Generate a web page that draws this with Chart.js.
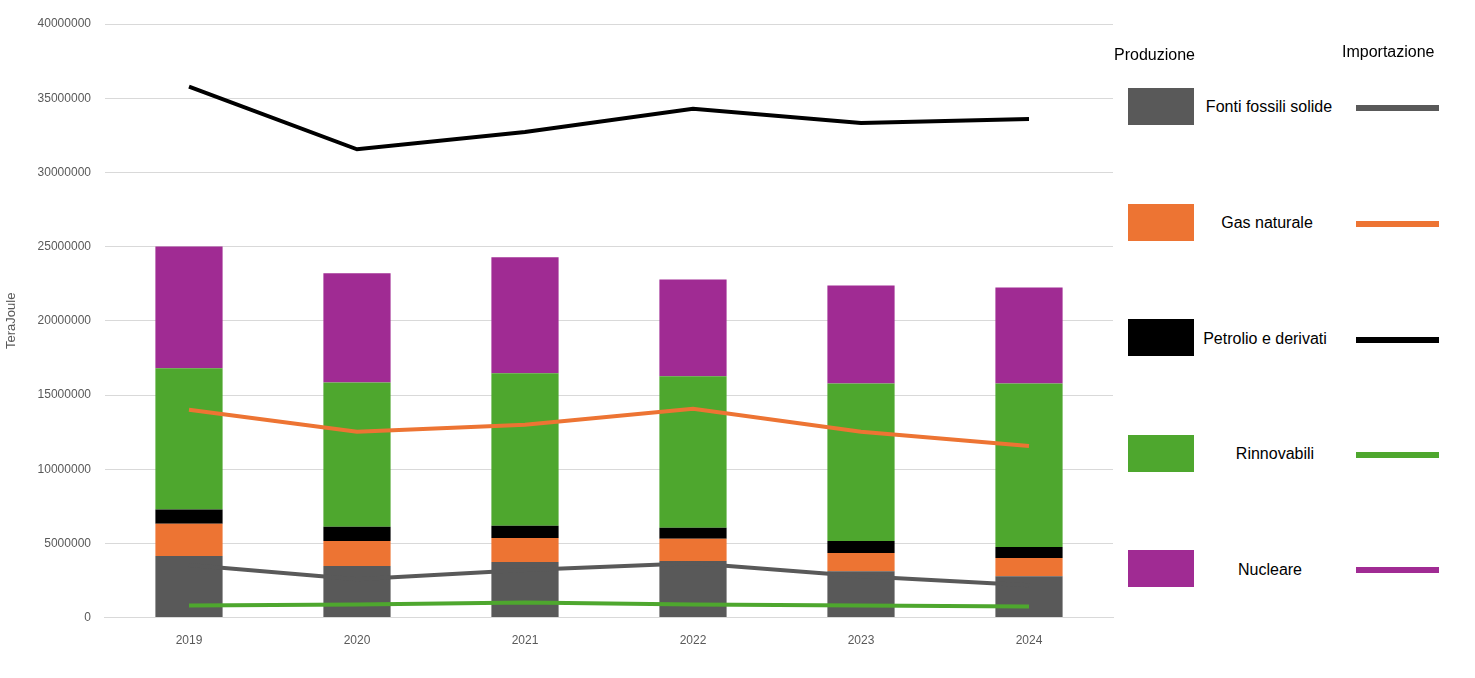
<!DOCTYPE html>
<html>
<head>
<meta charset="utf-8">
<script src="https://cdn.jsdelivr.net/npm/chart.js"></script>
<style>
  body { margin: 0; background: #fff; font-family: "Liberation Sans", Arial, sans-serif; }
  #wrap { position: absolute; left: 0; top: 0; width: 1125px; height: 678px; }
  .hdr { position: absolute; font-size: 16px; color: #000; }
  .box { position: absolute; left: 1128px; width: 66px; height: 37px; }
  .lbl { position: absolute; font-size: 16px; color: #000; width: 150px; text-align: center; }
  .ln { position: absolute; left: 1356px; width: 83px; height: 6px; }
</style>
</head>
<body>
<div id="wrap"><canvas id="c"></canvas></div>
<div class="hdr" style="left:1114px;top:46px">Produzione</div>
<div class="hdr" style="left:1342px;top:43px">Importazione</div>
<div id="legend"></div>
<script>
  var years = ['2019', '2020', '2021', '2022', '2023', '2024'];
  var sources = ['Fonti fossili solide', 'Gas naturale', 'Petrolio e derivati', 'Rinnovabili', 'Nucleare'];
  var colors = ['#595959', '#ED7433', '#000000', '#4EA72E', '#A02B93'];

  // Produzione (bars, stacked)
  var prodSolidi = [4150000, 3470000, 3740000, 3810000, 3130000, 2790000];
  var prodGas = [2180000, 1700000, 1630000, 1500000, 1220000, 1220000];
  var prodPetrolio = [950000, 950000, 820000, 740000, 820000, 750000];
  var prodRinnovabili = [9520000, 9730000, 10270000, 10210000, 10610000, 11020000];
  var prodNucleare = [8200000, 7350000, 7830000, 6530000, 6600000, 6460000];

  // Importazione (lines)
  var impSolidi = [3540000, 2590000, 3200000, 3670000, 2790000, 2180000];
  var impGas = [14010000, 12520000, 12990000, 14080000, 12520000, 11560000];
  var impPetrolio = [35780000, 31560000, 32720000, 34290000, 33330000, 33600000];
  var impRinnovabili = [820000, 880000, 1020000, 880000, 820000, 750000];

  var prod = [prodSolidi, prodGas, prodPetrolio, prodRinnovabili, prodNucleare];
  var imp = [impSolidi, impGas, impPetrolio, impRinnovabili];

  var datasets = [];
  imp.forEach(function (d, i) {
    datasets.push({ type: 'line', label: sources[i] + ' imp', data: d, borderColor: colors[i],
      borderWidth: 4, pointRadius: 0, fill: false, tension: 0, order: 0, stack: 'imp' + i });
  });
  prod.forEach(function (d, i) {
    datasets.push({ type: 'bar', label: sources[i], data: d, backgroundColor: colors[i],
      stack: 'prod', order: 1, barPercentage: 0.4, categoryPercentage: 1 });
  });

  new Chart(document.getElementById('c'), {
    data: { labels: years, datasets: datasets },
    options: {
      responsive: true, maintainAspectRatio: false, animation: false,
      layout: { padding: { top: 24, right: 12, bottom: 22, left: 0 } },
      plugins: { legend: { display: false }, tooltip: { enabled: false } },
      scales: {
        x: { stacked: true, grid: { display: false }, border: { color: '#d9d9d9' },
          ticks: { color: '#595959', font: { size: 12 }, padding: 8 } },
        y: { stacked: false, min: 0, max: 40000000,
          grid: { color: '#d9d9d9', drawTicks: false }, border: { display: false },
          ticks: { stepSize: 5000000, color: '#595959', font: { size: 12 }, padding: 14,
            callback: function (v) { return String(v); } },
          title: { display: true, text: 'TeraJoule', color: '#595959', font: { size: 13 } } }
      }
    },
    plugins: [{
      id: 'stackBars',
      beforeInit: function (chart) {}
    }]
  });

  // bars need stacking on y only for the bar stack: use separate stack ids so lines aren't stacked
  var ch = Chart.getChart('c');
  ch.options.scales.y.stacked = true;
  ch.update();

  var legendTops = [88, 204, 319, 435, 550];
  var lineTops = [105, 221, 337, 452, 567];
  var labelTops = [98, 214, 330, 445, 561];
  var labelLefts = [1194, 1192, 1190, 1200, 1195];
  var html = '';
  sources.forEach(function (s, i) {
    html += '<div class="box" style="top:' + legendTops[i] + 'px;background:' + colors[i] + '"></div>';
    html += '<div class="lbl" style="top:' + labelTops[i] + 'px;left:' + labelLefts[i] + 'px">' + s + '</div>';
    html += '<div class="ln" style="top:' + lineTops[i] + 'px;background:' + colors[i] + '"></div>';
  });
  document.getElementById('legend').innerHTML = html;
</script>
</body>
</html>
